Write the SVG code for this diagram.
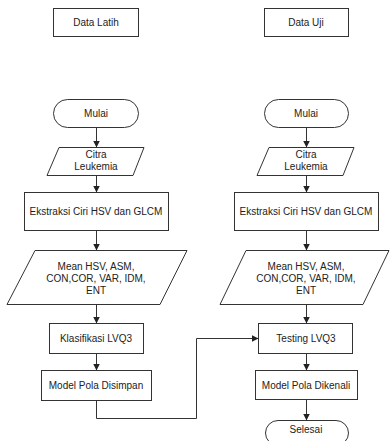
<svg xmlns="http://www.w3.org/2000/svg" width="390" height="441" viewBox="0 0 390 441">
<style>
.s{fill:#fff;stroke:#333;stroke-width:1}
text{font-family:"Liberation Sans",Arial,sans-serif;font-size:10px;fill:#222;text-anchor:middle}
.c{fill:none;stroke:#333;stroke-width:1}
</style>
<defs>
<marker id="a" viewBox="0 0 8 8" refX="8" refY="4" markerWidth="7" markerHeight="7" markerUnits="userSpaceOnUse" orient="auto">
<path d="M0,0L8,4L0,8Z" fill="#222"/>
</marker>
</defs>
<rect width="390" height="441" fill="#fff"/>
<g id="data-latih"><rect class="s" x="53.5" y="8.5" width="85" height="28"/><text x="96" y="26">Data Latih</text></g>
<g id="data-uji"><rect class="s" x="264.5" y="8.5" width="84" height="28"/><text x="306" y="26">Data Uji</text></g>
<g id="mulai-l"><rect class="s" x="53.5" y="99.5" width="85" height="28" rx="14"/><text x="96" y="117">Mulai</text></g>
<g id="mulai-r"><rect class="s" x="264.5" y="99.5" width="84" height="28" rx="14"/><text x="306" y="117">Mulai</text></g>
<g id="citra-l"><polygon class="s" points="59,147.5 144,147.5 133,175.5 47,175.5"/><text x="96" y="158">Citra</text><text x="96" y="170">Leukemia</text></g>
<g id="citra-r"><polygon class="s" points="269,147.5 354,147.5 343,175.5 257,175.5"/><text x="306" y="158">Citra</text><text x="306" y="170">Leukemia</text></g>
<g id="ekstraksi-l"><rect class="s" x="24.5" y="192.5" width="144" height="38"/><text x="96" y="215">Ekstraksi Ciri HSV dan GLCM</text></g>
<g id="ekstraksi-r"><rect class="s" x="234.5" y="192.5" width="144" height="38"/><text x="306" y="215">Ekstraksi Ciri HSV dan GLCM</text></g>
<g id="mean-l"><polygon class="s" points="35,250.5 187,250.5 160,304.5 7,304.5"/><text x="96" y="270">Mean HSV, ASM,</text><text x="96" y="282">CON,COR, VAR, IDM,</text><text x="96" y="294">ENT</text></g>
<g id="mean-r"><polygon class="s" points="246,250.5 389,250.5 363,304.5 220,304.5"/><text x="306" y="270">Mean HSV, ASM,</text><text x="306" y="282">CON,COR, VAR, IDM,</text><text x="306" y="294">ENT</text></g>
<g id="klasifikasi"><rect class="s" x="49.5" y="323.5" width="94" height="30"/><text x="96" y="342">Klasifikasi LVQ3</text></g>
<g id="testing"><rect class="s" x="258.5" y="323.5" width="94" height="30"/><text x="306" y="342">Testing LVQ3</text></g>
<g id="model-disimpan"><rect class="s" x="41.5" y="370.5" width="110" height="30"/><text x="96" y="389">Model Pola Disimpan</text></g>
<g id="model-dikenali"><rect class="s" x="255.5" y="370.5" width="102" height="29"/><text x="306" y="389">Model Pola Dikenali</text></g>
<g id="selesai"><rect class="s" x="265.5" y="420.5" width="83" height="25" rx="12.5"/><text x="306" y="433">Selesai</text></g>
<g id="connectors">
<line class="c" x1="96.5" y1="127.5" x2="96.5" y2="147.5" marker-end="url(#a)"/>
<line class="c" x1="306.5" y1="127.5" x2="306.5" y2="147.5" marker-end="url(#a)"/>
<line class="c" x1="96.5" y1="175.5" x2="96.5" y2="192.5" marker-end="url(#a)"/>
<line class="c" x1="306.5" y1="175.5" x2="306.5" y2="192.5" marker-end="url(#a)"/>
<line class="c" x1="96.5" y1="230.5" x2="96.5" y2="250.5" marker-end="url(#a)"/>
<line class="c" x1="306.5" y1="230.5" x2="306.5" y2="250.5" marker-end="url(#a)"/>
<line class="c" x1="96.5" y1="304.5" x2="96.5" y2="323.5" marker-end="url(#a)"/>
<line class="c" x1="306.5" y1="304.5" x2="306.5" y2="323.5" marker-end="url(#a)"/>
<line class="c" x1="96.5" y1="353.5" x2="96.5" y2="370.5" marker-end="url(#a)"/>
<line class="c" x1="306.5" y1="353.5" x2="306.5" y2="370.5" marker-end="url(#a)"/>
<line class="c" x1="306.5" y1="399.5" x2="306.5" y2="420.5" marker-end="url(#a)"/>
<polyline class="c" points="96.5,400.5 96.5,418.5 196.5,418.5 196.5,338.5 258.5,338.5" marker-end="url(#a)"/>
</g>
</svg>
